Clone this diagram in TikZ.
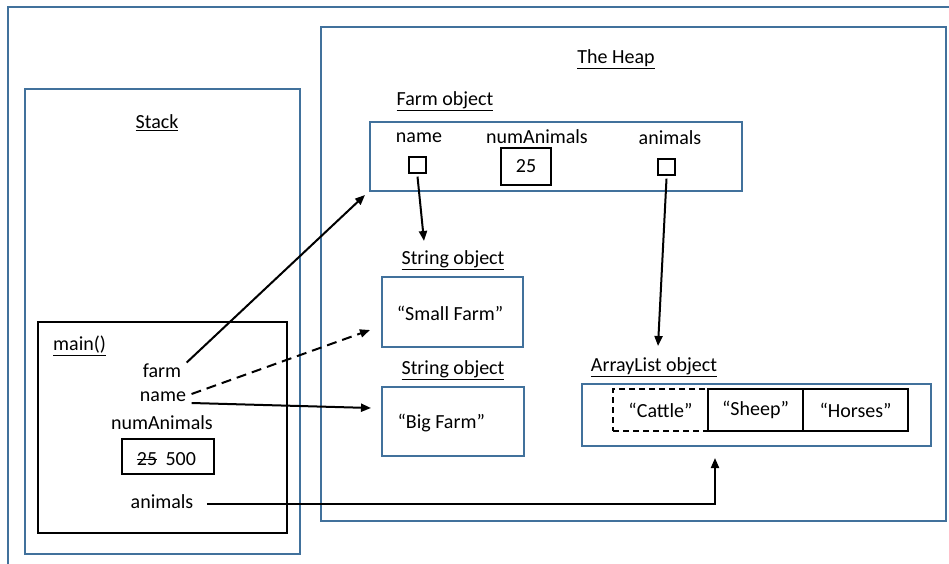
\documentclass[tikz,border=0pt]{standalone}
\usepackage{fontspec}
\setmainfont{Carlito}
\usepackage{xcolor}
\usepackage{tikz}
\usetikzlibrary{arrows.meta,positioning}

\definecolor{frameblue}{RGB}{65,113,156}

\tikzset{
    frame/.style={draw=frameblue, line width=1.5pt},
    objbox/.style={draw=frameblue, line width=1.5pt, inner sep=0pt},
    slot/.style={draw=black, line width=1.2pt, inner sep=0pt},
    title/.style={inner sep=1pt, yshift=-2pt},
    field/.style={yshift=-2pt},
    ref/.style={line width=2pt, -{Triangle[length=10pt,width=8pt]}},
}

\begin{document}
\begin{tikzpicture}[x=1pt, y=-1pt, font=\fontsize{20}{24}\selectfont]
    \clip (0,0) rectangle (949,564);
    \useasboundingbox (0,0) rectangle (949,564);
    \draw[frame] (8,7) rectangle (1000,620);

    % Stack
    \draw[frame] (25,89) rectangle (300,554);
    \node[title] (stacklbl) at (157,121) {\underline{Stack}};
    \draw[line width=1.2pt] (38,322) rectangle (287,533);
    \node[title, anchor=west] (mainlbl) at (52,344) {\underline{main()}};
    \node[field] (vfarm) at (162,369) {farm};
    \node[field] (vname) at (163,395) {name};
    \node[field] (vnum) at (162,421) {numAnimals};
    \node[slot, minimum width=92pt, minimum height=35pt] (vnumbox) at (168,456.5) {};
    \node[inner sep=0pt] (oldval) at (147,459) {25};
    \node[inner sep=0pt, right=8pt of oldval] (newval) {500};
    \draw[line width=1pt] (oldval.west) -- (oldval.east);
    \node[field] (vanimals) at (162,500) {animals};

    % Heap
    \draw[frame] (321,27) rectangle (946,521);
    \node[title] (heaplbl) at (616,57) {\underline{The Heap}};

    % Farm object
    \node[title] (farmlbl) at (445,99) {\underline{Farm object}};
    \node[objbox, minimum width=372pt, minimum height=69pt] (farmbox) at (556,156.5) {};
    \node[field] (fname) at (419,136) {name};
    \node[field] (fnum) at (537,135) {numAnimals};
    \node[field] (fanimals) at (670,136) {animals};
    \node[slot, minimum width=17pt, minimum height=16pt] (fnamebox) at (417.5,165) {};
    \node[slot, minimum width=50pt, minimum height=37pt] (fnumbox) at (526,166.5) {25};
    \node[slot, minimum width=17pt, minimum height=16pt] (fanimalsbox) at (666.5,167) {};

    % String objects
    \node[title] (smalllbl) at (453,258) {\underline{String object}};
    \node[objbox, minimum width=141pt, minimum height=70pt] (smallbox) at (452.5,312) {};
    \node[field] (smalltxt) at (450,311) {“Small Farm”};
    \node[title] (biglbl) at (453,368) {\underline{String object}};
    \node[objbox, minimum width=142pt, minimum height=69pt] (bigbox) at (453,421.5) {};
    \node[field, anchor=west] (bigtxt) at (394,421) {“Big Farm”};

    % ArrayList object
    \node[title] (listlbl) at (654,365) {\underline{ArrayList object}};
    \node[objbox, minimum width=349pt, minimum height=62pt] (listbox) at (756.5,415) {};
    \node[slot, dashed, dash pattern=on 6pt off 4pt, minimum width=95pt, minimum height=42pt] (cattle) at (660.5,410) {“Cattle”};
    \node[slot, minimum width=95pt, minimum height=42pt] (sheep) at (755.5,410) {“Sheep”};
    \node[slot, minimum width=105pt, minimum height=42pt] (horses) at (855.5,410) {“Horses”};

    % References
    \coordinate (farmtip) at (365,195);
    \coordinate (oldtip) at (370,330);
    \coordinate (newtip) at (371,408);
    \coordinate (listtip) at (715,458);
    \coordinate (nametip) at (424,241);
    \coordinate (arraytip) at (658,346);
    \draw[ref] ([xshift=2pt,yshift=-2pt]vfarm.north east) -- (farmtip);
    \draw[ref, dashed, dash pattern=on 10pt off 6pt] ([xshift=2pt,yshift=3pt]vname.east) -- (oldtip);
    \draw[ref] ([xshift=2pt,yshift=-6pt]vname.east) -- (newtip);
    \draw[ref] ([xshift=10pt,yshift=-2pt]vanimals.east) -| (listtip);
    \draw[ref] ([yshift=-3pt]fnamebox.south) -- (nametip);
    \draw[ref] ([yshift=-3pt]fanimalsbox.south) -- (arraytip);
\end{tikzpicture}
\end{document}
